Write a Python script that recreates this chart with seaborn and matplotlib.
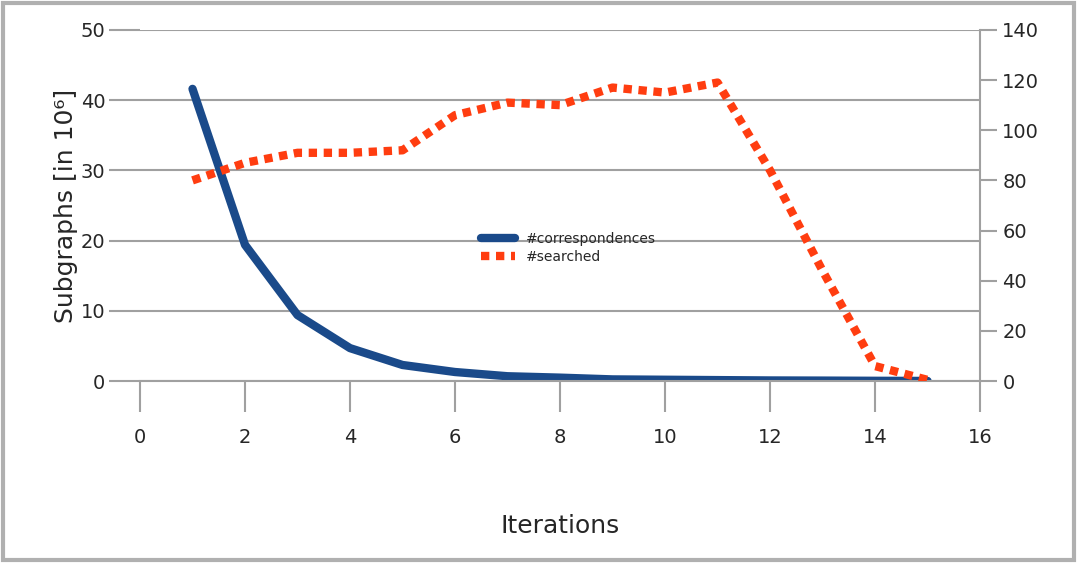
import numpy as np
import pandas as pd
import matplotlib
matplotlib.use("Agg")
import matplotlib.pyplot as plt
import seaborn as sns

iterations = [1, 2, 3, 4, 5, 6, 7, 8, 9, 10, 11, 12, 13, 14, 15]
correspondences = [41.6, 19.4, 9.4, 4.7, 2.3, 1.3, 0.7, 0.5, 0.25, 0.2, 0.15, 0.1, 0.08, 0.05, 0.03]
searched = [80, 87, 91, 91, 92, 106, 111, 110, 117, 115, 119, 84, 44, 6, 0.5]

df = pd.DataFrame({'it': iterations, 'corr': correspondences, 'searched': searched})

sns.set_style("white")
plt.rcParams['font.family'] = ['DejaVu Sans']

fig = plt.figure(figsize=(10.77, 5.63), dpi=100)
fig.patch.set_facecolor('white')
ax = fig.add_axes([0.130, 0.323, 0.780, 0.624])
ax2 = ax.twinx()

blue = '#1a4a8a'
red = '#ff3d10'

sns.lineplot(data=df, x='it', y='corr', ax=ax, color=blue, linewidth=6,
             label='#correspondences', legend=False)
sns.lineplot(data=df, x='it', y='searched', ax=ax2, color=red, linewidth=6,
             linestyle=(0, (1, 0.8)), label='#searched', legend=False)

ax.set_xlim(0, 16)
ax.set_ylim(0, 50)
ax2.set_ylim(0, 140)
ax.set_xticks(range(0, 17, 2))
ax.set_yticks(range(0, 51, 10))
ax2.set_yticks(range(0, 141, 20))

ax.grid(axis='y', color='#a0a0a0', linewidth=1.5)
ax.set_axisbelow(True)

for s in ['top', 'left', 'right']:
    ax.spines[s].set_visible(False)
for s in ['top', 'left', 'bottom']:
    ax2.spines[s].set_visible(False)
ax.spines['bottom'].set_color('#a0a0a0')
ax.spines['bottom'].set_linewidth(1.5)
ax2.spines['right'].set_color('#a0a0a0')
ax2.spines['right'].set_linewidth(1.5)

ax.tick_params(axis='x', bottom=True, direction='out', length=22, width=1.5, color='#a0a0a0',
               labelsize=14, pad=12)
ax.tick_params(axis='y', left=True, direction='out', length=22, width=1.5, color='#a0a0a0',
               labelsize=14, pad=3)
ax2.tick_params(axis='y', right=True, direction='out', length=12, width=1.5, color='#a0a0a0',
                labelsize=14, pad=4)

ax.set_xlabel('Iterations', fontsize=18, labelpad=48)
ax.set_ylabel('Subgraphs [in 10⁶]', fontsize=18, labelpad=2)
ax2.set_ylabel('')

h1, l1 = ax.get_legend_handles_labels()
h2, l2 = ax2.get_legend_handles_labels()
ax2.legend(h1 + h2, l1 + l2, loc='center', bbox_to_anchor=(0.51, 0.38),
           frameon=False, fontsize=10, handlelength=2.5, labelspacing=0.3)

fig.patches.append(plt.Rectangle((0.003, 0.005), 0.994, 0.99, transform=fig.transFigure,
                                 fill=False, edgecolor='#b0b0b0', linewidth=3))

fig.savefig('out.png', dpi=100)
